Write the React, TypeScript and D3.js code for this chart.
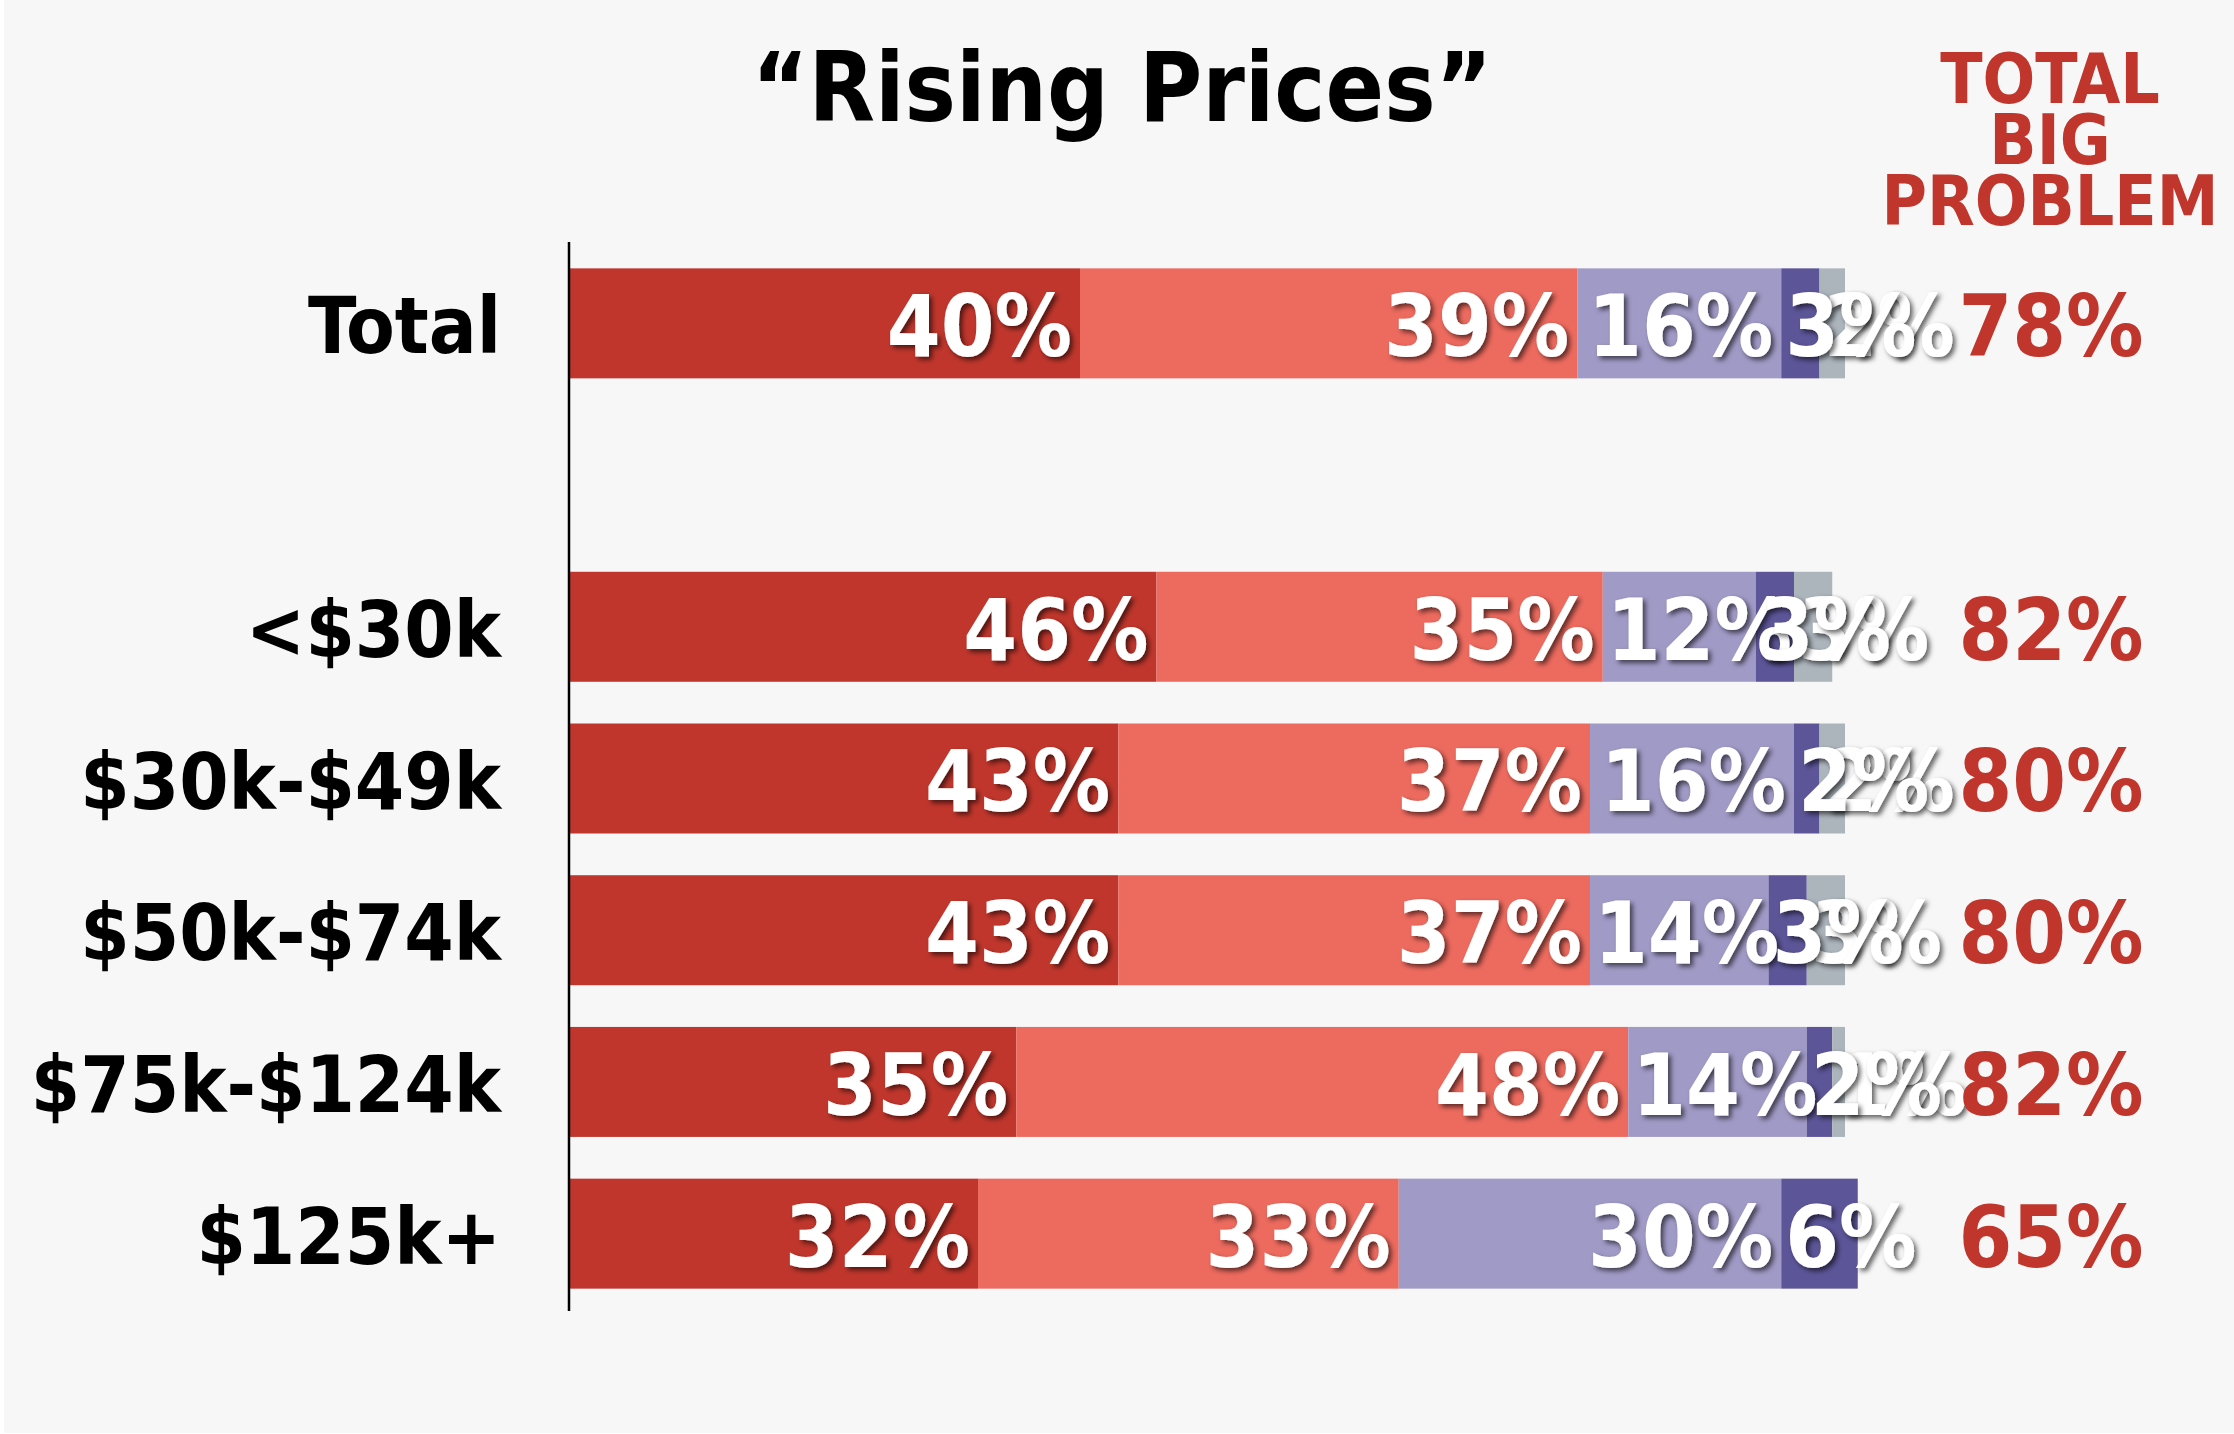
import React, { useEffect, useRef } from "react";
import * as d3 from "d3";

const categories = ["Total", "<$30k", "$30k-$49k", "$50k-$74k", "$75k-$124k", "$125k+"];
// row order on screen, blank spacer after Total
const rowOrder = ["Total", "", "<$30k", "$30k-$49k", "$50k-$74k", "$75k-$124k", "$125k+"];

const bigProblem = [40, 46, 43, 43, 35, 32];
const somewhatProblem = [39, 35, 37, 37, 48, 33];
const minorProblem = [16, 12, 16, 14, 14, 30];
const notProblem = [3, 3, 2, 3, 2, 6];
const notSure = [2, 3, 2, 3, 1, 0];
const totalBigProblem = [78, 82, 80, 80, 82, 65];

const seriesColors = ["#c0362c", "#ed6a5e", "#a09ac6", "#5c5598", "#acb4bc"];
// label stacking: last series goes underneath
const labelOrder = [4, 0, 1, 2, 3];

const FONT = "'DejaVu Sans Condensed', 'DejaVu Sans', sans-serif";

const W = 2234;
const H = 1434;

const App = () => {
    const svgRef = useRef<SVGSVGElement>(null);

    useEffect(() => {
        const svg = d3.select(svgRef.current);
        svg.selectAll("*").remove();

        const defs = svg.append("defs");
        defs.append("filter")
            .attr("id", "lblShadow")
            .attr("x", "-20%").attr("y", "-20%")
            .attr("width", "150%").attr("height", "150%")
            .append("feDropShadow")
            .attr("dx", 3).attr("dy", 3)
            .attr("stdDeviation", 2.5)
            .attr("flood-color", "#000")
            .attr("flood-opacity", 0.6);

        svg.append("rect").attr("width", W).attr("height", H).attr("fill", "#fff");
        svg.append("rect").attr("x", 4).attr("width", W - 4).attr("height", H - 1).attr("fill", "#f7f7f7");

        const x = d3.scaleLinear().domain([0, 100]).range([570, 1845]);
        const y = d3.scaleBand<string>()
            .domain(rowOrder)
            .range([247.5, 1309.5])
            .paddingInner(0.275)
            .paddingOuter(0.1375);

        const rows = categories.map((c, i) => ({
            cat: c,
            values: [bigProblem[i], somewhatProblem[i], minorProblem[i], notProblem[i], notSure[i]],
            total: totalBigProblem[i],
        }));

        const stackRow = (d: { values: number[] }) => {
            let acc = 0;
            return d.values.map((v, k) => {
                const s = { x0: acc, x1: acc + v, v, k };
                acc += v;
                return s;
            });
        };

        const g = svg.append("g")
            .style("font-family", FONT)
            .style("font-weight", "bold")
            .style("font-stretch", "condensed");

        // title
        g.append("text")
            .attr("x", 1122).attr("y", 121)
            .attr("text-anchor", "middle")
            .attr("font-size", 96)
            .attr("fill", "#000")
            .text("\u201CRising Prices\u201D");

        // header on the right
        const hdr = ["TOTAL", "BIG", "PROBLEM"];
        g.selectAll("text.hdr")
            .data(hdr)
            .enter()
            .append("text")
            .attr("class", "hdr")
            .attr("x", 2050)
            .attr("y", (d, i) => 103 + i * 61)
            .attr("text-anchor", "middle")
            .attr("font-size", 69)
            .attr("fill", "#c0362c")
            .text((d) => d);

        // category labels
        g.selectAll("text.cat")
            .data(rows)
            .enter()
            .append("text")
            .attr("class", "cat")
            .attr("x", 501)
            .attr("y", (d) => y(d.cat)! + y.bandwidth() / 2 + 30)
            .attr("text-anchor", "end")
            .attr("font-size", 79)
            .attr("fill", "#000")
            .text((d) => d.cat);

        const rowG = g.selectAll("g.row")
            .data(rows)
            .enter()
            .append("g")
            .attr("class", "row")
            .attr("transform", (d) => `translate(0,${y(d.cat)})`);

        // bars
        rowG.selectAll("rect")
            .data(stackRow)
            .enter()
            .append("rect")
            .attr("x", (d) => x(d.x0))
            .attr("width", (d) => x(d.x1) - x(d.x0))
            .attr("height", y.bandwidth())
            .attr("fill", (d) => seriesColors[d.k]);

        // value labels: right-aligned inside if they fit, else start at segment start
        rowG.append("g")
            .attr("class", "labels")
            .selectAll("text")
            .data((d) => {
                const segs = stackRow(d);
                return labelOrder.map((k) => segs[k]).filter((s) => s.v > 0);
            })
            .enter()
            .append("text")
            .attr("y", y.bandwidth() / 2 + 33)
            .attr("font-size", 86)
            .attr("fill", "#fff")
            .attr("filter", "url(#lblShadow)")
            .text((d) => `${d.v}%`)
            .each(function (d) {
                const el = d3.select(this);
                const tw = (this as SVGTextElement).getComputedTextLength();
                const segW = x(d.x1) - x(d.x0);
                if (tw + 10 <= segW) {
                    el.attr("x", x(d.x1) - 8).attr("text-anchor", "end");
                } else {
                    el.attr("x", x(d.x0) + 4).attr("text-anchor", "start");
                }
            });

        // total big problem
        rowG.append("text")
            .attr("x", 2051)
            .attr("y", y.bandwidth() / 2 + 33)
            .attr("text-anchor", "middle")
            .attr("font-size", 86)
            .attr("fill", "#c0362c")
            .text((d) => `${d.total}%`);

        // axis line
        svg.append("line")
            .attr("x1", x(0) - 1).attr("x2", x(0) - 1)
            .attr("y1", 242).attr("y2", 1311)
            .attr("stroke", "#000")
            .attr("stroke-width", 2.5);
    }, []);

    return (
        <div style={{ position: "absolute", left: 0, top: 0 }}>
            <svg ref={svgRef} width={W} height={H} style={{ display: "block" }}></svg>
        </div>
    );
};

export default App;
